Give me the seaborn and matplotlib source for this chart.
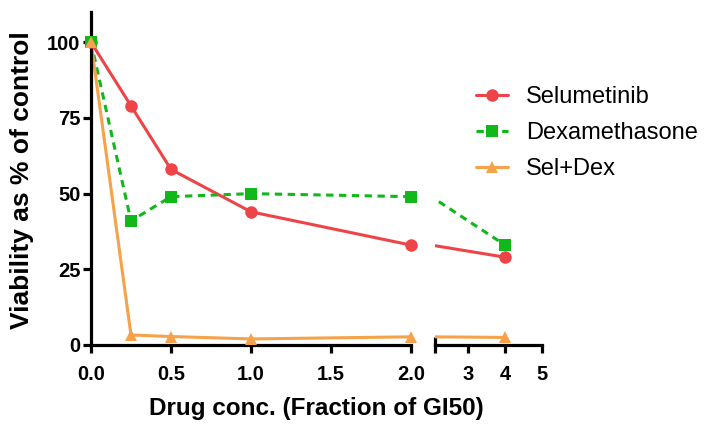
import numpy as np
import pandas as pd
import seaborn as sns
import matplotlib.pyplot as plt
from matplotlib.lines import Line2D

# Viability data (fraction of GI50 vs % of control)
conc = [0.0, 0.25, 0.5, 1.0, 2.0, 4.0]
selumetinib = [100, 79, 58, 44, 33, 29]
dexamethasone = [100, 41, 49, 50, 49, 33]
sel_dex = [100, 3.3, 2.8, 2.0, 2.7, 2.5]

series_names = ["Selumetinib", "Dexamethasone", "Sel+Dex"]
series_values = [selumetinib, dexamethasone, sel_dex]

y_ticks = [0, 25, 50, 75, 100]
x_ticks_left = [0.0, 0.5, 1.0, 1.5, 2.0]
x_ticks_right = [3, 4, 5]

colors = {"Selumetinib": "#EE4448", "Dexamethasone": "#11B81A", "Sel+Dex": "#F5A24A"}
markers = {"Selumetinib": "o", "Dexamethasone": "s", "Sel+Dex": "^"}
marker_sizes = {"Selumetinib": 9, "Dexamethasone": 8.3, "Sel+Dex": 9}
dash_styles = {"Selumetinib": "", "Dexamethasone": (2.4, 1.8), "Sel+Dex": ""}

df = pd.DataFrame({
    "conc": np.tile(conc, len(series_names)),
    "viability": np.concatenate(series_values),
    "drug": np.repeat(series_names, len(conc)),
})

sns.set_style("ticks")
plt.rcParams["font.family"] = ["Liberation Sans", "DejaVu Sans"]
plt.rcParams["text.color"] = "black"

W, H = 705, 429
fig = plt.figure(figsize=(W / 100, H / 100), dpi=100)
y_bot, y_top = 345, 12
ax_l = fig.add_axes([91 / W, 1 - y_bot / H, (411 - 91) / W, (y_bot - y_top) / H])
ax_r = fig.add_axes([435 / W, 1 - y_bot / H, (542 - 435) / W, (y_bot - y_top) / H], sharey=ax_l)

lw = 2.2
spine_w = 2.3
tick_fs = 14.5
for ax, (lo, hi) in [(ax_l, (0.0, 2.0)), (ax_r, (2.1, 5.0))]:
    # connecting lines, clipped at the axis break
    sns.lineplot(data=df, x="conc", y="viability", hue="drug", style="drug",
                 palette=colors, dashes=dash_styles, hue_order=series_names,
                 linewidth=lw, legend=False, ax=ax, zorder=2)
    # markers drawn unclipped so edge points stay whole
    seg = df[(df["conc"] >= lo) & (df["conc"] <= hi)]
    for name in series_names:
        sub = seg[seg["drug"] == name]
        ax.plot(sub["conc"], sub["viability"], linestyle="none",
                marker=markers[name], markersize=marker_sizes[name],
                color=colors[name], markeredgewidth=0, clip_on=False, zorder=4)
    ax.set_xlim(lo, hi)
    ax.set_ylim(0, 110)
    ax.set_xlabel("")
    ax.set_ylabel("")
    for s in ["top", "right"]:
        ax.spines[s].set_visible(False)
    ax.spines["bottom"].set_linewidth(spine_w)
    ax.spines["left"].set_linewidth(spine_w)
    ax.spines["bottom"].set_color("black")
    ax.spines["left"].set_color("black")
    ax.tick_params(width=spine_w, length=5.5, colors="black")
    ax.tick_params(axis="x", pad=9)
    ax.tick_params(axis="y", pad=2)

ax_l.set_xticks(x_ticks_left)
ax_l.set_xticklabels([f"{v:.1f}" for v in x_ticks_left], fontweight="bold", fontsize=tick_fs)
ax_l.set_yticks(y_ticks)
ax_l.set_yticklabels([str(v) for v in y_ticks], fontweight="bold", fontsize=tick_fs)

ax_r.spines["left"].set_visible(False)
ax_r.tick_params(axis="y", left=False, labelleft=False)
ax_r.set_xticks(x_ticks_right)
ax_r.set_xticklabels([str(v) for v in x_ticks_right], fontweight="bold", fontsize=tick_fs)
ax_r.set_xticks([2.1], minor=True)
ax_r.tick_params(axis="x", which="minor", direction="inout", length=11,
                 width=spine_w, color="black")

fig.text(316 / W, 1 - 409 / H, "Drug conc. (Fraction of GI50)",
         ha="center", va="center", fontsize=17.5, fontweight="bold", color="black")
fig.text(22 / W, 1 - 180 / H, "Viability as % of control",
         ha="center", va="center", rotation=90, fontsize=19, fontweight="bold",
         color="black")

handles = []
for n in series_names:
    h = Line2D([0], [0], color=colors[n], marker=markers[n],
               markersize=marker_sizes[n], markeredgewidth=0, linewidth=lw)
    if n == "Dexamethasone":
        h.set_dashes((2.4, 1.8))
    handles.append(h)
fig.legend(handles, series_names, loc="upper left",
           bbox_to_anchor=(476 / W, 1 - 86 / H), frameon=False,
           fontsize=17, handlelength=1.36, handletextpad=0.75, labelspacing=0.6,
           borderpad=0, borderaxespad=0)

fig.savefig("out.png", dpi=100)
